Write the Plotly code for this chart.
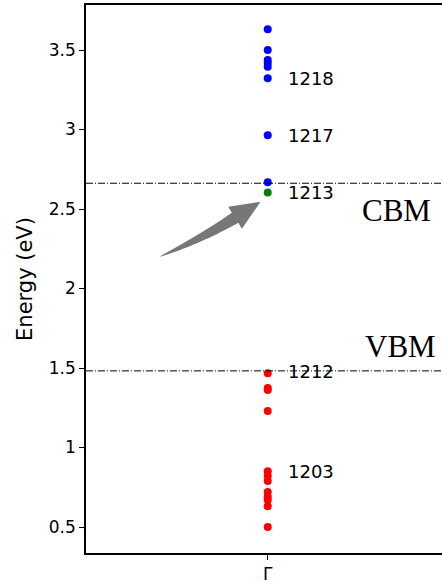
import numpy as np
import plotly.graph_objects as go

# ---------------- data ----------------
cb_energies = [3.63, 3.50, 3.437, 3.418, 3.395, 3.322, 2.964, 2.668]   # blue
mid_energies = [2.603]                                                # green
vb_energies = [1.467, 1.375, 1.362, 1.23, 0.851, 0.82, 0.79, 0.72, 0.69, 0.67, 0.63, 0.50]  # red
band_labels = ["1218", "1217", "1213", "1212", "1203"]
band_label_energies = [3.322, 2.964, 2.603, 1.477, 0.851]
cbm_level = 2.662
vbm_level = 1.482
y_tickvals = [0.5, 1, 1.5, 2, 2.5, 3, 3.5]
y_ticktext = ["0.5", "1", "1.5", "2", "2.5", "3", "3.5"]
x_tickvals = [0]
x_ticktext = ["Γ"]
level_names = ["CBM", "VBM"]
level_name_pos = [(0.711, 2.489), (0.733, 1.634)]
arrow_tail = (-0.595, 2.20)
arrow_head = (-0.04, 2.545)

# ---------------- layout constants ----------------
W, H = 442, 586
ML, MR, MT, MB = 86, 0, 5, 33
XMIN, XMAX = -1.0, 0.959
YMIN, YMAX = 0.3365, 3.783
PW, PH = W - ML - MR, H - MT - MB


def d2p(x, y):
    return (ML + (x - XMIN) / (XMAX - XMIN) * PW,
            MT + (YMAX - y) / (YMAX - YMIN) * PH)


def p2d(px, py):
    return (XMIN + (px - ML) / PW * (XMAX - XMIN),
            YMAX - (py - MT) / PH * (YMAX - YMIN))


fig = go.Figure()

for vals, col in [(cb_energies, "#0000ff"), (mid_energies, "#008000"), (vb_energies, "#ff0000")]:
    fig.add_trace(go.Scatter(x=[0] * len(vals), y=vals, mode="markers",
                             marker=dict(color=col, size=8, line=dict(width=0)),
                             showlegend=False, hoverinfo="y"))

shapes = []
for lvl in [cbm_level, vbm_level]:
    shapes.append(dict(type="line", xref="paper", x0=0, x1=1, yref="y", y0=lvl, y1=lvl,
                       line=dict(color="black", width=1, dash="7px,2px,1px,2px"), layer="above"))

# curved fancy arrow built from tail/head points
P0 = np.array(d2p(*arrow_tail))
T = np.array(d2p(*arrow_head))
L, HW, BW = 30.0, 13.0, 6.0
d = np.array([0.847, -0.531])
B = T - L * d
C = B - 40 * d
ts = np.linspace(0, 1, 30)
upper, lower = [], []
for t in ts:
    q = (1 - t) ** 2 * P0 + 2 * (1 - t) * t * C + t ** 2 * B
    tan = 2 * (1 - t) * (C - P0) + 2 * t * (B - C)
    tan = tan / np.linalg.norm(tan)
    n = np.array([tan[1], -tan[0]])
    w = BW * t ** 0.7
    upper.append(q + n * w)
    lower.append(q - n * w)
nB = np.array([d[1], -d[0]])
poly = upper + [B + nB * HW, T, B - nB * HW] + lower[::-1]
pts = [p2d(*p) for p in poly]
path = "M " + " L ".join(f"{x:.5f},{y:.5f}" for x, y in pts) + " Z"
shapes.append(dict(type="path", xref="x", yref="y", path=path,
                   fillcolor="#777777", line=dict(width=0), layer="above"))

annotations = []
for lab, e in zip(band_labels, band_label_energies):
    annotations.append(dict(x=0, y=e, xref="x", yref="y", text=lab, showarrow=False,
                            xanchor="left", yanchor="middle", xshift=18,
                            font=dict(family="DejaVu Sans", size=18, color="black")))
for name, (x, y) in zip(level_names, level_name_pos):
    annotations.append(dict(x=x, y=y, xref="x", yref="y", text=name, showarrow=False,
                            xanchor="center", yanchor="middle",
                            font=dict(family="Liberation Serif", size=31, color="black")))

fig.update_layout(
    width=W, height=H,
    margin=dict(l=ML, r=MR, t=MT, b=MB, pad=0),
    paper_bgcolor="white", plot_bgcolor="white",
    shapes=shapes, annotations=annotations,
    font=dict(family="DejaVu Sans", color="black"),
    xaxis=dict(range=[XMIN, XMAX], tickvals=x_tickvals, ticktext=x_ticktext,
               showgrid=False, zeroline=False, showline=True, mirror=True,
               linecolor="black", linewidth=1.5, ticks="outside", ticklen=5,
               tickwidth=1.2, tickcolor="black", tickfont=dict(size=17)),
    yaxis=dict(range=[YMIN, YMAX], tickvals=y_tickvals, ticktext=y_ticktext,
               showgrid=False, zeroline=False, showline=True, mirror=False,
               linecolor="black", linewidth=1.5, ticks="outside", ticklen=5,
               tickwidth=1.2, tickcolor="black", tickfont=dict(size=17),
               title=dict(text="Energy (eV)", font=dict(size=21), standoff=10)),
)

fig.write_html("out.html")
